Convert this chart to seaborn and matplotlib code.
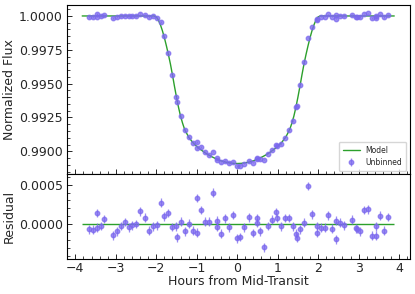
import numpy as np
import matplotlib
matplotlib.use("Agg")
import matplotlib.pyplot as plt
import seaborn as sns
from matplotlib.ticker import AutoMinorLocator, MultipleLocator, FormatStrFormatter

# Observed points (hours from mid-transit)
time = [-3.67, -3.57, -3.47, -3.46, -3.375, -3.28, -3.08, -2.98, -2.88, -2.78,
        -2.68, -2.59, -2.49, -2.39, -2.29, -2.19, -2.09, -1.99, -1.89, -1.80,
        -1.70, -1.60, -1.50, -1.49, -1.40, -1.30, -1.20, -1.10, -1.00, -0.99,
        -0.906, -0.807, -0.709, -0.61, -0.51, -0.50, -0.41, -0.31, -0.21, -0.116,
        -0.017, 0.08, 0.18, 0.28, 0.38, 0.48, 0.49, 0.575, 0.67, 0.77,
        0.87, 0.97, 0.98, 1.07, 1.17, 1.27, 1.37, 1.46, 1.47, 1.56,
        1.66, 1.76, 1.86, 1.96, 1.97, 2.06, 2.16, 2.25, 2.35, 2.44,
        2.45, 2.54, 2.64, 2.84, 2.94, 2.95, 3.04, 3.14, 3.23, 3.33,
        3.43, 3.44, 3.53, 3.63, 3.73]

flux = [0.999937, 0.999929, 1.000143, 0.999954, 0.999979, 1.000067, 0.999861, 0.999908, 0.999979, 1.000029,
        0.999962, 0.999987, 1.000004, 1.000164, 1.000084, 0.999916, 0.999975, 0.99988, 0.99955, 0.99850,
        0.99729, 0.99562, 0.99398, 0.99368, 0.99263, 0.99156, 0.99106, 0.99058, 0.99069, 0.99024,
        0.99031, 0.98995, 0.98976, 0.98998, 0.98948, 0.98939, 0.98919, 0.98930, 0.98912, 0.98923,
        0.98892, 0.98895, 0.98910, 0.98929, 0.98917, 0.98948, 0.98943, 0.98943, 0.98938, 0.98983,
        0.99012, 0.99045, 0.99039, 0.99055, 0.99101, 0.99155, 0.99225, 0.99328, 0.99338, 0.99491,
        0.99661, 0.99840, 0.99915, 0.99974, 0.99969, 0.999958, 0.999954, 1.000113, 0.999945, 1.000046,
        0.999807, 1.000017, 0.999987, 1.000059, 0.999950, 0.999940, 0.999908, 1.000180, 1.000189, 0.999857,
        0.999857, 0.999975, 1.000109, 0.999916, 1.000092]

residual = [-6.3e-5, -7.1e-5, 1.43e-4, -4.6e-5, -2.1e-5, 6.7e-5, -1.39e-4, -9.2e-5, -2.1e-5, 2.9e-5,
            -3.8e-5, -1.3e-5, 4e-6, 1.64e-4, 8.4e-5, -8.4e-5, -2.5e-5, -1.3e-5, 2.7e-4, 1.0e-4,
            1.43e-4, -3.4e-5, -2.5e-5, -1.64e-4, 3.4e-5, -8.8e-5, 8e-6, -8.4e-5, 3.32e-4, -1.05e-4,
            1.8e-4, 3.4e-5, 3.4e-5, 4.0e-4, 4.6e-5, -3.4e-5, -1.22e-4, 7.6e-5, -3.8e-5, 1.18e-4,
            -1.8e-4, -1.6e-4, -4.0e-5, 8.8e-5, -1.13e-4, 8.0e-5, 1.7e-5, -8.8e-5, -2.94e-4, -2.1e-5,
            5.9e-5, 1.55e-4, 8.0e-5, -2.5e-5, 8.0e-5, 8.0e-5, -2.5e-5, -1.18e-4, -1.72e-4, -6.3e-5,
            1.7e-5, 4.83e-4, 1.26e-4, -2.1e-5, -1.09e-4, -4.2e-5, -4.6e-5, 1.13e-4, -5.5e-5, 4.6e-5,
            -1.93e-4, 1.7e-5, -1.3e-5, 5.9e-5, -5.0e-5, -6.0e-5, -9.2e-5, 1.8e-4, 1.89e-4, -1.43e-4,
            -1.43e-4, -2.5e-5, 1.09e-4, -8.4e-5, 9.2e-5]

flux_err = 5.5e-5

# Transit model curve
model_time = [-3.83, -2.05, -2.00, -1.95, -1.90, -1.85, -1.80, -1.75, -1.70, -1.65,
              -1.60, -1.55, -1.50, -1.45, -1.40, -1.35, -1.30, -1.20, -1.10, -1.00,
              -0.90, -0.80, -0.70, -0.60, -0.50, -0.40, -0.30, -0.20, -0.10, 0.00,
              0.10, 0.20, 0.30, 0.40, 0.50, 0.60, 0.70, 0.80, 0.90, 1.00,
              1.10, 1.20, 1.30, 1.35, 1.40, 1.45, 1.50, 1.55, 1.60, 1.65,
              1.70, 1.75, 1.80, 1.85, 1.90, 1.95, 2.00, 2.05, 3.88]
model_flux = [1.0, 1.0, 0.99993, 0.99972, 0.99937, 0.99893, 0.99840, 0.99780, 0.99715, 0.99645,
              0.99565, 0.99480, 0.99400, 0.99325, 0.99260, 0.99208, 0.99163, 0.99105, 0.99066, 0.99036,
              0.99012, 0.98991, 0.98972, 0.98956, 0.98942, 0.98930, 0.98921, 0.98915, 0.98911, 0.98910,
              0.98911, 0.98915, 0.98921, 0.98930, 0.98942, 0.98956, 0.98972, 0.98991, 0.99012, 0.99036,
              0.99066, 0.99105, 0.99163, 0.99208, 0.99260, 0.99325, 0.99400, 0.99480, 0.99565, 0.99645,
              0.99715, 0.99780, 0.99840, 0.99893, 0.99937, 0.99972, 0.99993, 1.0, 1.0]

sns.set_style("ticks")
plt.rcParams["font.family"] = ["DejaVu Sans"]

point_col = "#7b68ee"
model_col = "#2ca02c"

fig, (ax1, ax2) = plt.subplots(2, 1, sharex=True, figsize=(4.15, 2.94), dpi=100,
                               gridspec_kw={"height_ratios": [2, 1]})
fig.subplots_adjust(left=0.161, right=0.988, top=0.983, bottom=0.119, hspace=0)

sns.lineplot(x=model_time, y=model_flux, ax=ax1, color=model_col, linewidth=1,
             label="Model", sort=False)
ax1.errorbar(time, flux, yerr=flux_err, fmt="o", color=point_col, alpha=0.75,
             markersize=3.2, elinewidth=0.9, capsize=0, label="Unbinned")

ax2.hlines(0, model_time[0], model_time[-1], color=model_col, linewidth=1)
ax2.errorbar(time, residual, yerr=flux_err, fmt="o", color=point_col, alpha=0.75,
             markersize=3.2, elinewidth=0.9, capsize=0)

ax1.set_ylim(0.98830, 1.00081)
ax2.set_ylim(-0.00044, 0.00063)
ax2.set_xlim(-4.21, 4.27)

ax1.yaxis.set_major_locator(MultipleLocator(0.0025))
ax2.yaxis.set_major_locator(MultipleLocator(0.0005))
ax2.xaxis.set_major_locator(MultipleLocator(1))
for ax in (ax1, ax2):
    ax.yaxis.set_major_formatter(FormatStrFormatter("%.4f"))
    ax.xaxis.set_minor_locator(AutoMinorLocator(5))
    ax.yaxis.set_minor_locator(AutoMinorLocator(5))
    ax.tick_params(which="both", direction="in", labelsize=9)
    ax.tick_params(which="major", length=3.5, width=0.7, pad=3)
    ax.tick_params(which="minor", length=2, width=0.6)
    for s in ax.spines.values():
        s.set_linewidth(0.8)
        s.set_color("black")

ax1.set_ylabel("Normalized Flux", fontsize=9, labelpad=2)
ax2.set_ylabel("Residual", fontsize=9, labelpad=2)
ax2.set_xlabel("Hours from Mid-Transit", fontsize=9, labelpad=0)
ax2.tick_params(axis="x", pad=2)
fig.align_ylabels([ax1, ax2])

ax1.legend(loc="lower right", fontsize=5.5, frameon=True, borderpad=0.5,
           handlelength=2.2, labelspacing=0.4)

fig.savefig("out.png", dpi=100)
